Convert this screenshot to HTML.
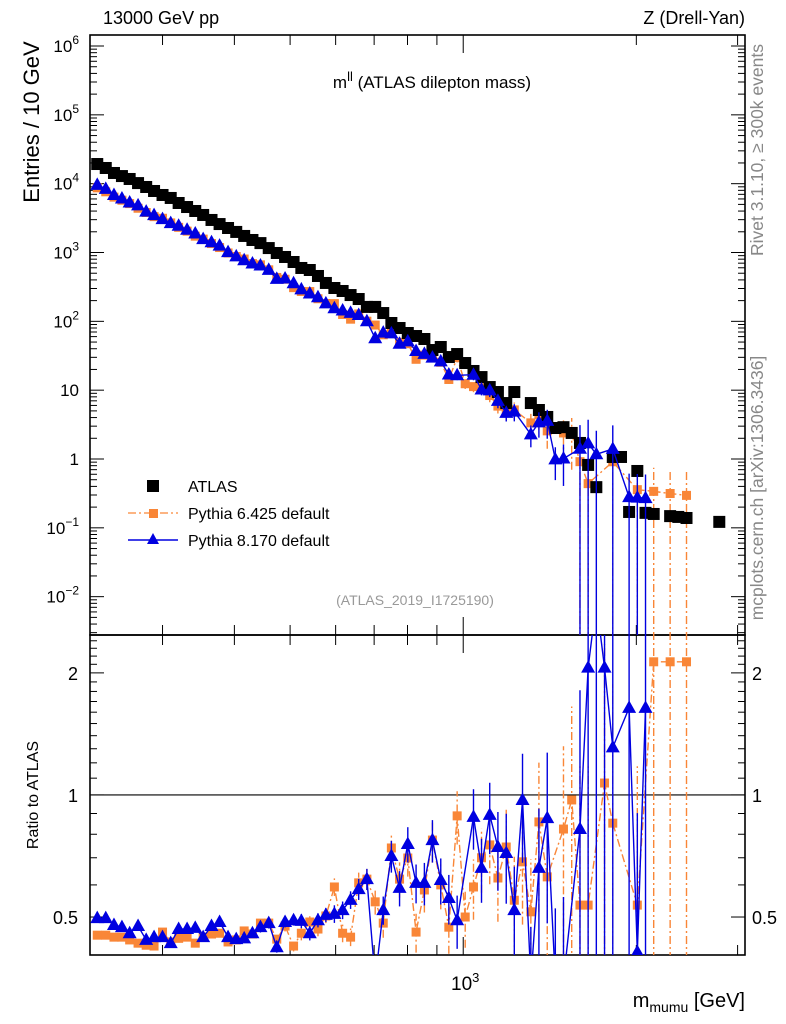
<!DOCTYPE html>
<html><head><meta charset="utf-8">
<style>
html,body{margin:0;padding:0;background:#fff;width:786px;height:1024px;overflow:hidden;}
svg{display:block;font-family:"Liberation Sans",Arial,sans-serif;}
</style></head>
<body>
<svg id="chart" width="786" height="1024" viewBox="0 0 786 1024">
<text x="103" y="24" font-size="18">13000 GeV pp</text>
<text x="745" y="24" font-size="18" text-anchor="end">Z (Drell-Yan)</text>
<text x="432" y="88" font-size="17" text-anchor="middle">m<tspan dy="-7" font-size="13">ll</tspan><tspan dy="7"> (ATLAS dilepton mass)</tspan></text>
<text transform="translate(39,122) rotate(-90)" font-size="22" text-anchor="middle">Entries / 10 GeV</text>
<text transform="translate(38,795) rotate(-90)" font-size="16" text-anchor="middle">Ratio to ATLAS</text>
<text transform="translate(763,150) rotate(-90)" font-size="17.5" fill="#888" text-anchor="middle">Rivet 3.1.10, ≥ 300k events</text>
<text transform="translate(763,488) rotate(-90)" font-size="17.5" fill="#888" text-anchor="middle">mcplots.cern.ch [arXiv:1306.3436]</text>
<text x="415" y="605" font-size="14" fill="#999" text-anchor="middle">(ATLAS_2019_I1725190)</text>
<text x="745" y="1007" font-size="20" text-anchor="end">m<tspan dy="5" font-size="14">mumu</tspan><tspan dy="-5"> [GeV]</tspan></text>
<g id="legend">
 <g><rect x="147" y="480" width="12" height="12" fill="#000"/><text x="188" y="492" font-size="16">ATLAS</text></g>
 <g><line x1="128" y1="513" x2="178" y2="513" stroke="#f98637" stroke-width="1.3" stroke-dasharray="8,3,2,3"/><rect x="149" y="509" width="9" height="9" fill="#f98637"/><text x="188" y="519" font-size="16">Pythia 6.425 default</text></g>
 <g><line x1="128" y1="540" x2="178" y2="540" stroke="#0000e0" stroke-width="1.5"/><path d="M153,533 L159,544 L147,544 Z" fill="#0000e0"/><text x="188" y="546" font-size="16">Pythia 8.170 default</text></g>
</g>
</svg>
<script>
const binMass=[231,239,247,255,263,272,281,290,300,310,320,331,342,353,365,377,390,403,416,430,444,459,474,490,507,523,541,559,577,597,617,637,658,680,703,726,750,775,801,828,856,884,914,944,976,1008,1042,1076,1112,1149,1188,1227,1268,1311,1354,1400,1446,1494,1544,1596,1649,1704,1761,1820,1881,1943,2008,2075,2144,2216,2290,2366,2445,2527,2611,2698,2788,2881];
const atlasValues=[19300,16900,14300,12900,11700,10200,8950,7830,6850,6200,5240,4580,4010,3510,2970,2590,2270,1990,1740,1520,1370,1160,984,861,728,596,557,456,361,305,276,241,211,162,162,132,94.6,80,67.7,61.2,55.4,38.3,42.4,30.3,33.5,24.8,19,15.5,11.1,9.4,6.5,9.4,null,6.5,5.15,4.08,2.82,2.9,2.39,1.71,0.82,0.39,null,1.07,1.07,0.17,0.67,0.165,0.159,null,0.148,0.144,0.139,null,null,null,0.122,null];
const py6Ratio=[0.451,0.451,0.446,0.446,0.439,0.431,0.426,0.424,0.459,0.434,0.443,0.446,0.431,0.446,0.454,0.456,0.434,0.439,0.462,0.454,0.483,0.483,0.441,0.475,0.424,0.456,0.486,0.467,0.503,0.593,0.456,0.446,0.607,0.620,0.545,0.483,0.740,0.62,0.699,0.459,0.583,0.774,0.6,0.472,0.888,0.5,0.593,0.7,0.753,0.624,0.744,0.55,0.684,0.515,0.858,0.628,null,0.824,0.972,0.535,0.535,null,1.07,0.852,null,null,0.535,null,2.13,null,2.13,null,2.13,null,null,null,null,null];
const py8Ratio=[0.497,0.497,0.478,0.472,0.456,0.475,0.439,0.446,0.446,0.431,0.467,0.467,0.470,0.446,0.475,0.486,0.446,0.441,0.443,0.456,0.472,0.483,0.421,0.486,0.491,0.489,0.456,0.491,0.506,0.509,0.520,0.551,0.586,0.620,0.35,0.520,0.707,0.590,0.757,0.607,0.607,0.774,0.617,0.557,0.491,null,0.883,0.661,0.893,0.744,0.719,0.520,0.972,0.35,0.661,0.877,0.35,0.35,null,0.824,2.06,3.0,2.06,1.31,null,1.64,0.41,1.64,null,null,null,null,null,null,null,null,null,null];
const mcRelErr=[0.02,0.02,0.02,0.02,0.02,0.02,0.02,0.02,0.02,0.02,0.02,0.02,0.02,0.02,0.02,0.02,0.02,0.02,0.02,0.02,0.03,0.03,0.03,0.03,0.03,0.04,0.04,0.04,0.04,0.05,0.05,0.05,0.06,0.06,0.07,0.08,0.09,0.1,0.1,0.11,0.12,0.12,0.13,0.14,0.15,0.16,0.17,0.18,0.2,0.22,0.25,0.28,0.3,0.35,0.4,0.45,0.5,0.6,0.7,1.2,1.2,1.2,1.2,1.2,1.2,1.2,1.2,1.2,1.2,1.2,1.2,1.2,1.2,1.2,1.2,1.2,1.2,1.2];
const mainTickLabels=[["10","6"],["10","5"],["10","4"],["10","3"],["10","2"],["10",""],["1",""],["10","−1"],["10","−2"]];
const ratioTickLabels=["2","1","0.5"];

const NS="http://www.w3.org/2000/svg";
const svg=document.getElementById('chart');
const L=90,R=745,T=35,MB=635,RB=955;
const xmin=2.351,xmax=3.490;
const X=m=>L+(Math.log10(m)-xmin)/(xmax-xmin)*(R-L);
const ymLo=-2.557,ymHi=6.16;
const Ym=v=>MB-(Math.log10(v)-ymLo)/(ymHi-ymLo)*(MB-T);
const rLo=Math.log2(0.403),rHi=Math.log2(2.48);
const Yr=r=>RB-(Math.log2(r)-rLo)/(rHi-rLo)*(RB-MB);
function el(tag,attrs,parent){const e=document.createElementNS(NS,tag);for(const k in attrs)e.setAttribute(k,attrs[k]);(parent||svg).appendChild(e);return e;}
const clipM=el('clipPath',{id:'cm'});el('rect',{x:L,y:T,width:R-L,height:MB-T},clipM);
const clipR=el('clipPath',{id:'cr'});el('rect',{x:L,y:MB,width:R-L,height:RB-MB},clipR);

const f1=el('rect',{x:L,y:T,width:R-L,height:MB-T,fill:'none',stroke:'#000','stroke-width':1.6});


const f2=el('rect',{x:L,y:MB,width:R-L,height:RB-MB,fill:'none',stroke:'#000','stroke-width':1.6});


const ref=el('line',{x1:L,x2:R,y1:Yr(1),y2:Yr(1),stroke:'#000','stroke-width':1.2});



const ticks=el('g',{stroke:'#000','stroke-width':1});


for(let d=-3;d<=6;d++){for(let k=1;k<10;k++){const v=k*Math.pow(10,d);const y=Ym(v);if(y<T||y>MB)continue;const len=k==1?14:7;
 el('line',{x1:L,x2:L+len,y1:y,y2:y},ticks);el('line',{x1:R,x2:R-len,y1:y,y2:y},ticks);}}
mainTickLabels.forEach((lab,i)=>{const y=Ym(Math.pow(10,6-i));const t=el('text',{x:79,y:y+6,'font-size':17,'text-anchor':'end'});
 
 
 t.textContent=lab[0];
 if(lab[1]){const s=el('tspan',{dy:-8,'font-size':12},t);s.textContent=lab[1];}
});
[0.4,0.5,0.6,0.7,0.8,0.9,1,1.1,1.2,1.3,1.4,1.5,1.6,1.7,1.8,1.9,2,2.1,2.2,2.3,2.4].forEach(r=>{const y=Yr(r);if(y<MB||y>RB)return;const len=(r==0.5||r==1||r==2)?14:7;
 el('line',{x1:L,x2:L+len,y1:y,y2:y},ticks);el('line',{x1:R,x2:R-len,y1:y,y2:y},ticks);});
[2,1,0.5].forEach((r,i)=>{const y=Yr(r);
 const a=el('text',{x:78,y:y+7,'font-size':18,'text-anchor':'end'});a.textContent=ratioTickLabels[i];
 
 
 const b=el('text',{x:752,y:y+7,'font-size':18});b.textContent=ratioTickLabels[i];
 
 });
for(let d=2;d<=3;d++){for(let k=1;k<10;k++){const m=k*Math.pow(10,d);const x=X(m);if(x<L||x>R)continue;const len=k==1?18:10;
 [[T,1],[MB,-1],[MB,1],[RB,-1]].forEach(([y0,s])=>el('line',{x1:x,x2:x,y1:y0,y2:y0+s*len},ticks));}}
const xl=el('text',{x:X(1000)+2,y:990,'font-size':19,'text-anchor':'middle'});xl.textContent='10';


const xs=el('tspan',{dy:-8,'font-size':13},xl);xs.textContent='3';

const OR='#f98637',BL='#0000e0';
function drawMC(ratios,color,name,marker,dash){
 const gm=el('g',{'clip-path':'url(#cm)'});
 
 
 const gr=el('g',{'clip-path':'url(#cr)'});
 
 
 let pm='',pr='';
 ratios.forEach((r,i)=>{if(r==null){return;}const x=X(binMass[i]);const e=mcRelErr[i];
  const yr=Yr(r);pr+=(pr?'L':'M')+x+','+yr;
  const lo=r*(1-e),hi=r*(1+e);
  const eb=el('line',{x1:x,x2:x,y1:lo>0?Yr(lo):RB+5,y2:Yr(hi),stroke:color,'stroke-width':1.4,'stroke-dasharray':dash||''},gr);
  
  const mk=marker(gr,x,yr);
  
  const d=atlasValues[i];if(d==null)return;const v=r*d;const ym=Ym(v);pm+=(pm?'L':'M')+x+','+ym;
  const eb2=el('line',{x1:x,x2:x,y1:v*(1-e)>0?Ym(v*(1-e)):MB+5,y2:Ym(v*(1+e)),stroke:color,'stroke-width':1.4,'stroke-dasharray':dash||''},gm);
  
  const mk2=marker(gm,x,ym);
  
 });
 const l1=el('path',{d:pm,fill:'none',stroke:color,'stroke-width':1.4,'stroke-dasharray':dash||''},gm);
 const l2=el('path',{d:pr,fill:'none',stroke:color,'stroke-width':1.4,'stroke-dasharray':dash||''},gr);
 gm.insertBefore(l1,gm.firstChild);gr.insertBefore(l2,gr.firstChild);
}
const sq=(g,x,y)=>el('rect',{x:x-4.5,y:y-4.5,width:9,height:9,fill:OR},g);
const tri=(g,x,y)=>el('path',{d:`M${x},${y-7.5}L${x+7},${y+5}L${x-7},${y+5}Z`,fill:BL},g);
drawMC(py6Ratio,OR,'pythia6',sq,'8,3,2,3');
const ga=el('g',{'clip-path':'url(#cm)'});


atlasValues.forEach((v,i)=>{if(v==null)return;const x=X(binMass[i]),y=Ym(v);
 const r=el('rect',{x:x-6,y:y-6,width:12,height:12,fill:'#000'},ga);
 
 });
drawMC(py8Ratio,BL,'pythia8',tri,'');
svg.appendChild(document.getElementById('legend'));
</script>
</body></html>
